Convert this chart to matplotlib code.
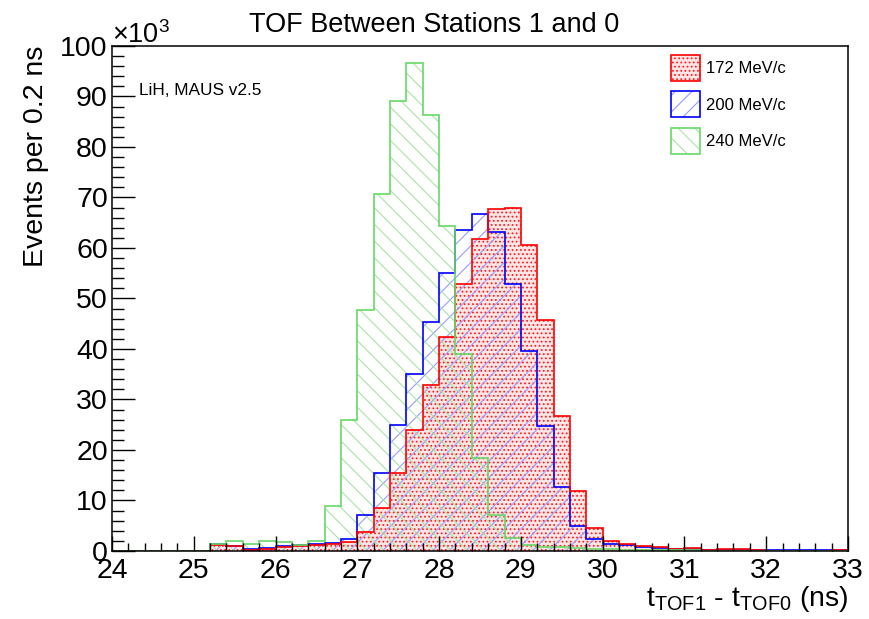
import matplotlib.pyplot as plt
import numpy as np
from matplotlib.patches import Patch
from matplotlib.ticker import MultipleLocator

plt.rcParams["font.family"] = ["Liberation Sans", "DejaVu Sans"]
plt.rcParams["mathtext.fontset"] = "custom"
plt.rcParams["mathtext.rm"] = "Liberation Sans"
plt.rcParams["mathtext.it"] = "Liberation Sans"
plt.rcParams["mathtext.default"] = "regular"
plt.rcParams["hatch.linewidth"] = 0.8

# TOF1 - TOF0 histogram, 0.2 ns bins from 24 to 33 ns, counts in units of 10^3
bin_edges = np.round(np.linspace(24.0, 33.0, 46), 1)

events_172 = [0, 0, 0, 0, 0, 0, 1.1, 1.0, 0.25, 0.3, 0.7, 1.0, 1.2, 1.3, 1.85,
              3.8, 8.6, 15.5, 24.0, 32.9, 42.4, 52.9, 61.8, 67.7, 67.9,
              60.6, 45.7, 26.7, 11.9, 4.5, 2.0, 1.4, 1.0, 0.7, 0.3,
              0.5, 0.2, 0.3, 0.3, 0.1, 0.05, 0.05, 0.05, 0.05, 0.1]
events_200 = [0, 0, 0, 0, 0, 0, 1.45, 1.0, 0.4, 0.6, 0.9, 1.2, 1.4, 1.5, 2.3,
              7.1, 15.5, 25.0, 35.1, 45.3, 55.1, 63.5, 66.8, 63.1, 52.8,
              39.6, 24.8, 12.6, 5.0, 2.3, 1.3, 1.2, 0.7, 0.5, 0.4,
              0.45, 0.2, 0.2, 0.2, 0.15, 0.15, 0.15, 0.15, 0.15, 0.15]
events_240 = [0, 0, 0, 0, 0, 0, 1.3, 1.9, 1.45, 1.9, 1.7, 1.1, 1.9, 8.9, 25.9,
              47.7, 70.7, 89.1, 96.7, 86.4, 64.4, 39.0, 18.5, 7.1, 2.6,
              1.2, 0.85, 0.7, 0.5, 0.4, 0.3, 0.2, 0.1, 0.1, 0.1,
              0.1, 0.05, 0.05, 0.05, 0.05, 0.05, 0.05, 0.05, 0.05, 0.05]

labels = ["172 MeV/c", "200 MeV/c", "240 MeV/c"]


def main():
    fig = plt.figure(figsize=(8.69, 6.19), dpi=100)
    ax = fig.add_axes([0.1289, 0.1099, 0.8469, 0.8158])

    series = [events_172, events_200, events_240]
    # line colour, hatch colour, hatch, face
    styles = [
        ("#ff0000", "#ff2020", "....", "#ffe6e6"),
        ("#0000ff", "#9a9aff", "//", "none"),
        ("#66d966", "#a8e2a8", "\\\\", "none"),
    ]
    # fills first so the hatches of all three stay visible, outlines on top
    for values, (line_c, hatch_c, hatch, face) in zip(series, styles):
        ax.stairs(values, bin_edges, fill=True, facecolor=face, edgecolor=hatch_c,
                  hatch=hatch, linewidth=0)
    for idx in (1, 0, 2):
        ax.stairs(series[idx], bin_edges, color=styles[idx][0], linewidth=1.2)

    ax.set_xlim(24, 33)
    ax.set_ylim(0, 100)
    ax.xaxis.set_major_locator(MultipleLocator(1))
    ax.xaxis.set_minor_locator(MultipleLocator(0.2))
    ax.yaxis.set_major_locator(MultipleLocator(10))
    ax.yaxis.set_minor_locator(MultipleLocator(2))
    ax.tick_params(axis="both", which="both", direction="in", width=1.0,
                   labelsize=20.5, top=False, right=False)
    ax.tick_params(axis="x", which="major", length=11, pad=5)
    ax.tick_params(axis="x", which="minor", length=5.8)
    ax.tick_params(axis="y", which="major", length=16.5, pad=3)
    ax.tick_params(axis="y", which="minor", length=8.6)
    for sp in ax.spines.values():
        sp.set_linewidth(1.1)

    ax.set_ylabel("Events per 0.2 ns", fontsize=20.5, loc="top")
    ax.yaxis.set_label_coords(-0.086, 1.0)
    ax.set_xlabel("$t_{TOF1}$ - $t_{TOF0}$ (ns)", fontsize=20.5, loc="right")
    ax.xaxis.set_label_coords(1.0, -0.066)

    fig.text(112 / 869, 1 - 43 / 619, "\u00d710$^{3}$", fontsize=19.5, va="baseline")
    fig.suptitle("TOF Between Stations 1 and 0", x=0.5, y=1 - 32 / 619,
                 va="baseline", fontsize=19.5)
    ax.text(0.036, 0.911, "LiH, MAUS v2.5", transform=ax.transAxes, fontsize=12.4,
            va="center")

    handles = []
    for line_c, hatch_c, hatch, face in styles:
        handles.append((Patch(facecolor=face, edgecolor=hatch_c, hatch=hatch, linewidth=0),
                        Patch(facecolor="none", edgecolor=line_c, linewidth=1.2)))
    ax.legend(handles, labels, loc="upper left", bbox_to_anchor=(670.7 / 869, 1 - 55 / 619),
              bbox_transform=fig.transFigure, frameon=False, fontsize=12,
              handlelength=1.74, handleheight=2.02, labelspacing=0.63,
              handletextpad=0.38, borderpad=0, borderaxespad=0)

    fig.savefig("out.png", dpi=100)
    plt.close(fig)


if __name__ == "__main__":
    main()
